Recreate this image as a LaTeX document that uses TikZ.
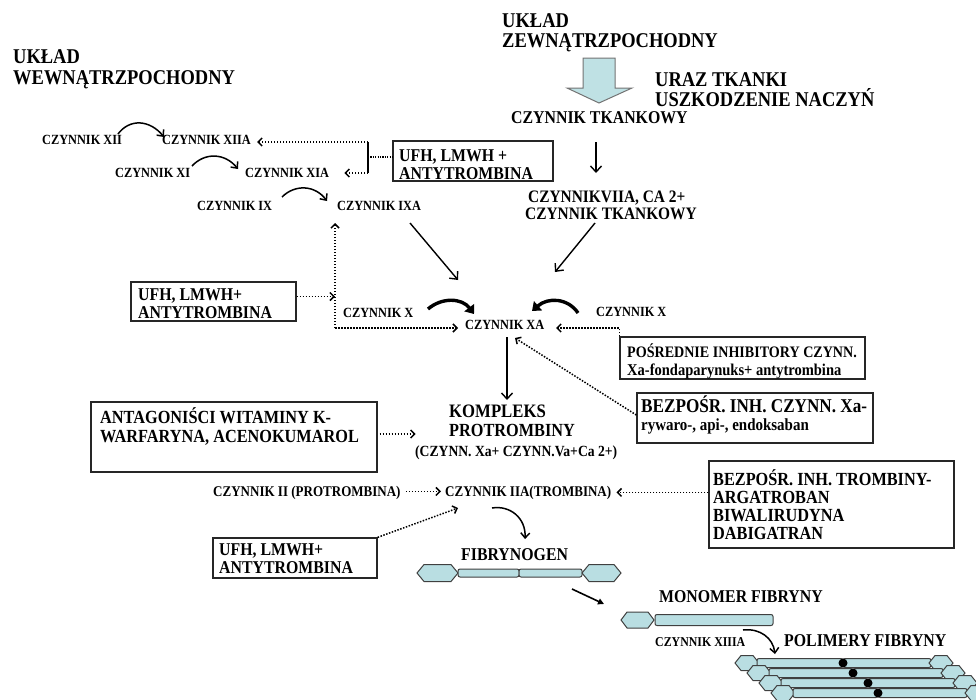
\documentclass[tikz,border=0pt]{standalone}
\usepackage{fontspec}
\setmainfont{Liberation Serif}[FakeStretch=0.88]
\usetikzlibrary{arrows.meta,calc}
\definecolor{fib}{HTML}{B9DEE2}
\definecolor{fibarrow}{HTML}{BFE1E4}
\newcommand\fz[1]{\fontsize{#1}{#1}\selectfont\bfseries}
\newcommand\fibhex[5]{\filldraw[fibst] (#1,#3) -- ({#1+#5},{#3-#4/2}) -- ({#2-#5},{#3-#4/2}) -- (#2,#3) -- ({#2-#5},{#3+#4/2}) -- ({#1+#5},{#3+#4/2}) -- cycle;}
\newcommand\fibrod[4]{\filldraw[fibst,rounded corners=2pt] (#1,{#3-#4/2}) rectangle (#2,{#3+#4/2});}
\newcommand\polyrow[3]{%
  \fibhex{#1}{#1+24}{#2}{15}{6}
  \fibrod{#1+22}{#3}{#2}{9}
  \fibrod{#3}{#1+196}{#2}{9}
  \fibhex{#1+194}{#1+218}{#2}{15}{6}
  \fill (#3,#2) circle (4.5);}
\begin{document}
\begin{tikzpicture}[x=1pt,y=-1pt,
  lbl/.style={anchor=base west,inner sep=0pt,font=\fz{14}},
  box/.style={draw=black!85,line width=1.3pt,inner sep=0pt},
  fibst/.style={fill=fib,draw=black!75,line width=1pt},
  arrS/.style={line width=1.4pt,-{Straight Barb[length=6pt,width=11pt,line width=1.4pt]}},
  dotl/.style={line width=1.5pt,dash pattern=on 1.5pt off 1.5pt},
  arrD/.style={-{Straight Barb[length=4pt,width=8pt,line width=1.5pt]}},
  thk/.style={line width=3.4pt,-{Triangle[length=8pt,width=12pt]}},
  crv/.style={line width=1.5pt,-{Straight Barb[length=5pt,width=9pt,line width=1.5pt]}}]
\useasboundingbox (0,0) rectangle (976,699);
\clip (0,0) rectangle (976,699);
\fill[white] (0,0) rectangle (976,699);

% titles
\node[lbl,font=\fz{21}] (wew1) at (13,63) {UKŁAD};
\node[lbl,font=\fz{21}] (wew2) at (13,84) {WEWNĄTRZPOCHODNY};
\node[lbl,font=\fz{21}] (zew1) at (502,27) {UKŁAD};
\node[lbl,font=\fz{21}] (zew2) at (502,47) {ZEWNĄTRZPOCHODNY};
\node[lbl,font=\fz{21}] (uraz1) at (655,86) {URAZ TKANKI};
\node[lbl,font=\fz{21}] (uraz2) at (655,106) {USZKODZENIE NACZYŃ};

% block arrow
\filldraw[fill=fibarrow,draw=black!55,line width=1pt] (583,58) -- (615,58) -- (615,88) -- (632,88) -- (599,103) -- (567,88) -- (583,88) -- cycle;

\node[lbl,font=\fz{18}] (tf) at (511,123) {CZYNNIK TKANKOWY};
\node[lbl,font=\fz{17.5}] (v7a) at (528,202) {CZYNNIKVIIA, CA 2+};
\node[lbl,font=\fz{17.5}] (v7b) at (525,219) {CZYNNIK TKANKOWY};

% intrinsic chain
\node[lbl] (f12) at (42,144) {CZYNNIK XII};
\node[lbl] (f12a) at (162,144) {CZYNNIK XIIA};
\node[lbl] (f11) at (115,177) {CZYNNIK XI};
\node[lbl] (f11a) at (245,177) {CZYNNIK XIA};
\node[lbl] (f9) at (197,210) {CZYNNIK IX};
\node[lbl] (f9a) at (337,210) {CZYNNIK IXA};
\node[lbl] (f10l) at (343,317) {CZYNNIK X};
\node[lbl] (f10a) at (465,329) {CZYNNIK XA};
\node[lbl] (f10r) at (596,316) {CZYNNIK X};

\node[lbl,font=\fz{19}] (kp1) at (449,417) {KOMPLEKS};
\node[lbl,font=\fz{18.5}] (kp2) at (449,436) {PROTROMBINY};
\node[lbl,font=\fz{15.5}] (kp3) at (415,456) {(CZYNN. Xa+ CZYNN.Va+Ca 2+)};

\node[lbl,font=\fz{14.8}] (f2) at (213,496) {CZYNNIK II (PROTROMBINA)};
\node[lbl,font=\fz{14.8}] (f2a) at (445,496) {CZYNNIK IIA(TROMBINA)};

\node[lbl,font=\fz{18}] (fbg) at (461,560) {FIBRYNOGEN};
\node[lbl,font=\fz{18}] (mono) at (659,602) {MONOMER FIBRYNY};
\node[lbl,font=\fz{13.5}] (f13a) at (655,646) {CZYNNIK XIIIA};
\node[lbl,font=\fz{18}] (poly) at (784,646) {POLIMERY FIBRYNY};

% boxes
\node[box,minimum width=160pt,minimum height=40pt] (ufh1) at (473,161) {};
\node[lbl,font=\fz{18}] at (399,161) {UFH, LMWH +};
\node[lbl,font=\fz{18}] at (399,179) {ANTYTROMBINA};

\node[box,minimum width=165pt,minimum height=39pt] (ufh2) at (213.5,301.5) {};
\node[lbl,font=\fz{18}] at (138,300) {UFH, LMWH+};
\node[lbl,font=\fz{18}] at (138,318) {ANTYTROMBINA};

\node[box,minimum width=245pt,minimum height=42pt] (pos) at (742.5,358) {};
\node[lbl,font=\fz{16}] at (627,357) {POŚREDNIE INHIBITORY CZYNN.};
\node[lbl,font=\fz{16.5}] at (627,375) {Xa-fondaparynuks+ antytrombina};

\node[box,minimum width=236pt,minimum height=50pt] (bxa) at (755,418) {};
\node[lbl,font=\fz{19.5}] at (641,412) {BEZPOŚR. INH. CZYNN. Xa-};
\node[lbl,font=\fz{17}] at (641,430) {rywaro-, api-, endoksaban};

\node[box,minimum width=245pt,minimum height=87pt] (btr) at (831.5,504.5) {};
\node[lbl,font=\fz{18.5}] at (713,485) {BEZPOŚR. INH. TROMBINY-};
\node[lbl,font=\fz{18.5}] at (713,503) {ARGATROBAN};
\node[lbl,font=\fz{18.5}] at (713,521) {BIWALIRUDYNA};
\node[lbl,font=\fz{18.5}] at (713,539) {DABIGATRAN};

\node[box,minimum width=286pt,minimum height=70pt] (ant) at (234,437) {};
\node[lbl,font=\fz{18.5}] at (100,423) {ANTAGONIŚCI WITAMINY K-};
\node[lbl,font=\fz{18.5}] at (100,442) {WARFARYNA, ACENOKUMAROL};

\node[box,minimum width=164pt,minimum height=40pt] (ufh3) at (295,558) {};
\node[lbl,font=\fz{18}] at (219,555) {UFH, LMWH+};
\node[lbl,font=\fz{18}] at (219,573) {ANTYTROMBINA};

% intrinsic curves
\draw[crv] (118,134) .. controls (130,118) and (150,120) .. (164,137);
\draw[crv] (192,166) .. controls (205,152) and (225,153) .. (238,169);
\draw[crv] (282,197) .. controls (295,184) and (315,185) .. (327,201);

% top bracket
\coordinate (brT) at (368,142);
\coordinate (brM) at (368,157);
\coordinate (brB) at (368,173);
\draw[dotl,arrD] (brT) -- ($(f12a.east |- brT)+(6,0)$);
\draw[line width=1.2pt] (brT) -- (brB);
\draw[dotl,arrD] (brB) -- ($(f11a.east |- brB)+(15,0)$);
\draw[line width=1.1pt,dash pattern=on 1.2pt off 1.2pt] (brM) -- (brM -| ufh1.west);

% extrinsic
\draw[arrS] (596,142) -- (596,173);
\coordinate (a1s) at (410,223); \coordinate (a1e) at (458,280);
\coordinate (a2s) at (595,223); \coordinate (a2e) at (555,272);
\draw[arrS] (a1s) -- (a1e);
\draw[arrS] (a2s) -- (a2e);

% thick curves to XA
\draw[thk] (428,309) .. controls (442,297) and (462,298) .. (474,314);
\draw[thk] (578,313) .. controls (568,298) and (548,297) .. (532,311);

% dotted connections around XA
\coordinate (vL) at (335,328);
\coordinate (xaL) at (458,328);
\coordinate (xaR) at (556,328);
\coordinate (ixaT) at (335,223);
\draw[dotl,arrD] (vL) -- (xaL);
\draw[dotl,arrD] (vL) -- (ixaT);
\draw[dotl,arrD] ($(ufh2.east)+(0,-5)$) -- ($(vL |- ufh2.east)+(0,-5)$);
\draw[dotl,arrD] (pos.north west) |- (xaR);
\coordinate (xaD) at (515,338);
\draw[dotl,arrD] ($(bxa.west)+(0,-3)$) -- (xaD);

% XA -> complex
\draw[arrS] (507,337) -- (507,400);
\draw[dotl,arrD] ($(ant.east)+(2,-3)$) -- ++(36,0);

% thrombin
\draw[dotl,arrD] ($(f2.east)+(5,-1)$) -- ($(f2a.west)+(-4,-1)$);
\draw[dotl,arrD] (btr.west |- f2a.east) -- ($(f2a.east)+(5,0)$);
\coordinate (iiaD) at (458,508);
\draw[dotl,arrD] (ufh3.north east) -- (iiaD);
\draw[crv] (492,508) .. controls (510,505) and (526,518) .. (525,539);

% fibrinogen
\fibhex{417}{458}{573}{17}{7}
\fibrod{458}{519}{573}{8}
\fibrod{519}{582}{573}{8}
\fibhex{582}{621}{573}{17}{7}
\draw[line width=1.6pt,-{Triangle[length=6pt,width=6pt]}] (572,589) -- (604,604);

% monomer
\fibhex{621}{654}{620}{16}{6}
\fibrod{655}{773}{620}{11}
\draw[crv] (743,630) .. controls (760,628) and (773,638) .. (775,654);

% polymer
\polyrow{735}{663}{843}
\polyrow{747}{673}{853}
\polyrow{759}{683}{868}
\polyrow{771}{693}{878}
\end{tikzpicture}
\end{document}
